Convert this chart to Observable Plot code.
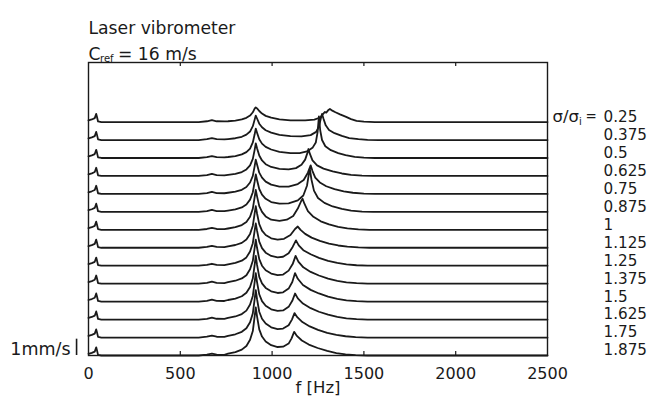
<!DOCTYPE html>
<html><head><meta charset="utf-8">
<script src="https://cdn.jsdelivr.net/npm/d3@7"></script>
<script src="https://cdn.jsdelivr.net/npm/@observablehq/plot@0.6"></script>
<style>body{margin:0;background:#fff}</style>
</head><body><div id="chart"></div>
<script>
// sigma/sigma_i of each spectrum, top to bottom
const sigmaRatios = ["0.25","0.375","0.5","0.625","0.75","0.875","1","1.125","1.25","1.375","1.5","1.625","1.75","1.875"];
const xTicks = [0, 500, 1000, 1500, 2000, 2500];
const innerTicks = [500, 1000, 1500, 2000];
const titleText = "Laser vibrometer";
const cText = "C", refText = "ref", speedText = "= 16 m/s";
const xLabel = "f [Hz]";
const scaleBarLabel = "1mm/s";
const scaleBarValue = 1; // mm/s
const offsetStep = 1.1;  // vertical spacing between spectra, mm/s

// [frequency Hz, velocity amplitude mm/s] — part common to all spectra below 760 Hz
const lowBand = [[0,0.10],[18,0.16],[34,0.24],[42,0.5],[46,0.33],[52,0.04],[70,0],[600,0],[645,0.05],[672,0.12],[698,0.05],[740,0.04]];

const s025 = [[760,0.05],[800,0.09],[835,0.16],[860,0.26],[880,0.4],[895,0.6],[905,0.82],[911,0.9],[918,0.84],[930,0.68],[945,0.52],[965,0.38],[995,0.27],[1040,0.17],[1100,0.11],[1180,0.1],[1230,0.15],[1262,0.28],[1278,0.5],[1288,0.62],[1295,0.58],[1305,0.72],[1315,0.8],[1328,0.7],[1345,0.6],[1370,0.47],[1400,0.33],[1430,0.18],[1460,0.08],[1500,0.03],[1560,0],[2500,0]];
const s0375 = [[760,0.06],[800,0.11],[835,0.2],[860,0.33],[880,0.52],[895,0.85],[905,1.25],[911,1.5],[918,1.32],[930,1.0],[945,0.78],[965,0.6],[995,0.45],[1040,0.32],[1100,0.24],[1160,0.22],[1210,0.3],[1240,0.5],[1256,0.85],[1266,1.35],[1272,1.6],[1280,1.3],[1292,0.9],[1310,0.62],[1340,0.42],[1380,0.25],[1420,0.12],[1470,0.05],[1520,0.01],[1580,0],[2500,0]];
const s05 = [[760,0.06],[800,0.12],[835,0.22],[860,0.36],[880,0.58],[895,0.95],[905,1.45],[911,1.8],[918,1.55],[930,1.15],[945,0.88],[965,0.68],[995,0.52],[1040,0.38],[1100,0.3],[1150,0.3],[1190,0.4],[1220,0.62],[1238,0.95],[1248,1.6],[1255,2.55],[1262,1.7],[1272,1.1],[1290,0.72],[1320,0.48],[1360,0.3],[1400,0.17],[1450,0.07],[1500,0.02],[1560,0],[2500,0]];
const s0625 = [[760,0.07],[800,0.13],[835,0.24],[860,0.4],[880,0.65],[895,1.05],[905,1.6],[911,2.0],[918,1.7],[930,1.25],[945,0.95],[965,0.72],[995,0.55],[1040,0.43],[1090,0.4],[1130,0.48],[1160,0.68],[1180,1.0],[1192,1.4],[1198,1.65],[1206,1.35],[1220,0.95],[1245,0.65],[1280,0.45],[1330,0.28],[1380,0.15],[1430,0.07],[1490,0.02],[1550,0],[2500,0]];
const s075 = [[760,0.07],[800,0.14],[835,0.25],[860,0.42],[880,0.7],[895,1.1],[905,1.7],[911,2.1],[918,1.8],[930,1.3],[945,1.0],[965,0.75],[995,0.57],[1040,0.45],[1090,0.45],[1140,0.6],[1172,0.85],[1195,1.3],[1210,1.75],[1220,1.4],[1235,1.0],[1260,0.7],[1295,0.47],[1340,0.29],[1390,0.15],[1440,0.07],[1500,0.02],[1560,0],[2500,0]];
const s0875 = [[760,0.08],[800,0.15],[835,0.27],[860,0.45],[880,0.75],[895,1.2],[905,1.85],[911,2.3],[918,1.95],[930,1.4],[945,1.05],[965,0.8],[995,0.6],[1040,0.5],[1090,0.52],[1140,0.7],[1170,1.0],[1190,1.6],[1200,2.3],[1206,2.6],[1214,2.0],[1228,1.3],[1250,0.85],[1285,0.55],[1330,0.33],[1380,0.18],[1430,0.08],[1490,0.02],[1550,0],[2500,0]];
const s1 = [[760,0.08],[800,0.16],[835,0.29],[860,0.48],[880,0.8],[895,1.3],[905,2.0],[911,2.45],[918,2.05],[930,1.45],[945,1.1],[965,0.82],[995,0.62],[1040,0.55],[1080,0.62],[1115,0.85],[1140,1.3],[1158,1.75],[1166,1.9],[1176,1.6],[1195,1.15],[1225,0.8],[1265,0.52],[1310,0.33],[1360,0.18],[1410,0.09],[1470,0.03],[1530,0],[2500,0]];
const s1125 = [[760,0.09],[800,0.17],[835,0.3],[860,0.5],[880,0.85],[895,1.35],[905,2.1],[911,2.55],[918,2.1],[930,1.45],[945,1.05],[965,0.78],[995,0.58],[1030,0.5],[1065,0.55],[1100,0.78],[1125,1.15],[1140,1.3],[1155,1.1],[1180,0.85],[1215,0.62],[1260,0.42],[1310,0.26],[1360,0.14],[1410,0.07],[1470,0.02],[1530,0],[2500,0]];
const s125 = [[760,0.09],[800,0.18],[835,0.31],[860,0.51],[880,0.87],[895,1.38],[905,2.15],[911,2.6],[918,2.15],[930,1.48],[945,1.08],[965,0.8],[995,0.6],[1030,0.51],[1060,0.55],[1090,0.76],[1112,1.15],[1130,1.55],[1145,1.25],[1170,0.95],[1210,0.7],[1255,0.48],[1305,0.3],[1355,0.17],[1405,0.08],[1460,0.03],[1520,0],[2500,0]];
const s1375 = [[760,0.09],[800,0.18],[835,0.32],[860,0.52],[880,0.88],[895,1.4],[905,2.2],[911,2.7],[918,2.2],[930,1.5],[945,1.1],[965,0.82],[995,0.62],[1030,0.52],[1060,0.56],[1090,0.8],[1112,1.2],[1128,1.7],[1143,1.35],[1170,1.0],[1210,0.72],[1255,0.5],[1305,0.31],[1355,0.17],[1405,0.08],[1460,0.03],[1520,0],[2500,0]];
const s15 = [[760,0.1],[800,0.19],[835,0.33],[860,0.54],[880,0.9],[895,1.43],[905,2.25],[911,2.8],[918,2.25],[930,1.52],[945,1.12],[965,0.84],[995,0.63],[1030,0.53],[1060,0.57],[1090,0.8],[1110,1.2],[1125,1.75],[1140,1.4],[1168,1.02],[1210,0.72],[1255,0.5],[1305,0.31],[1355,0.17],[1405,0.08],[1460,0.03],[1520,0],[2500,0]];
const s1625 = [[760,0.1],[800,0.19],[835,0.34],[860,0.55],[880,0.92],[895,1.45],[905,2.3],[911,2.85],[918,2.3],[930,1.55],[945,1.13],[965,0.85],[995,0.63],[1030,0.53],[1060,0.56],[1090,0.78],[1110,1.15],[1125,1.6],[1140,1.3],[1168,0.98],[1210,0.7],[1255,0.48],[1305,0.3],[1355,0.16],[1405,0.08],[1460,0.03],[1520,0],[2500,0]];
const s175 = [[760,0.1],[800,0.2],[835,0.35],[860,0.57],[880,0.94],[895,1.48],[905,2.35],[911,2.9],[918,2.35],[930,1.58],[945,1.15],[965,0.86],[995,0.63],[1030,0.52],[1060,0.55],[1090,0.75],[1108,1.1],[1122,1.5],[1137,1.25],[1165,0.95],[1205,0.68],[1250,0.47],[1300,0.29],[1350,0.16],[1400,0.08],[1455,0.03],[1520,0],[2500,0]];
const s1875 = [[760,0.11],[800,0.21],[835,0.36],[860,0.58],[880,0.96],[895,1.5],[905,2.4],[911,2.95],[918,2.4],[930,1.6],[945,1.16],[965,0.86],[995,0.63],[1030,0.52],[1060,0.54],[1090,0.73],[1106,1.05],[1120,1.45],[1135,1.2],[1162,0.92],[1200,0.67],[1248,0.46],[1300,0.28],[1350,0.15],[1400,0.07],[1455,0.02],[1520,0],[2500,0]];

const spectra = [s025, s0375, s05, s0625, s075, s0875, s1, s1125, s125, s1375, s15, s1625, s175, s1875];
const n = spectra.length;
const rows = spectra.flatMap((s, i) =>
  [...lowBand, ...s].map(([f, a]) => ({f, y: (n - 1 - i) * offsetStep + a, ratio: sigmaRatios[i]})));
const labelRows = sigmaRatios.map((r, i) => ({r, y: (n - 1 - i) * offsetStep}));
const yTop = (n - 1) * offsetStep;

const ink = "#1a1a1a";
const font = "'DejaVu Sans', sans-serif";
const chart = Plot.plot({
  width: 649, height: 404,
  marginLeft: 88, marginRight: 102, marginTop: 62, marginBottom: 49,
  style: {fontFamily: font, fontSize: "16px", color: ink, background: "#fff", overflow: "visible"},
  x: {domain: [0, 2500], ticks: xTicks, tickSize: 0, tickPadding: 12, label: null, tickFormat: d => String(d)},
  y: {domain: [0, 17.95], axis: null},
  marks: [
    Plot.frame({stroke: ink, strokeWidth: 1.4}),
    Plot.ruleX(innerTicks, {y1: 0, y2: 0.25, stroke: ink, strokeWidth: 1.2}),
    Plot.ruleX(innerTicks, {y1: 17.7, y2: 17.95, stroke: ink, strokeWidth: 1.2}),
    Plot.line(rows, {x: "f", y: "y", z: "ratio", stroke: ink, strokeWidth: 1.8, strokeLinejoin: "round"}),
    Plot.text(labelRows, {x: 2500, y: "y", text: "r", dx: 56, dy: -5, textAnchor: "start", fontSize: 15.2, fill: ink}),
    Plot.text(["σ/σ"], {x: 2500, y: yTop, dx: 5, dy: -5, textAnchor: "start", fontSize: 16.5, fill: ink}),
    Plot.text(["i"], {x: 2500, y: yTop, dx: 31.5, dy: 0, textAnchor: "start", fontSize: 10, fill: ink}),
    Plot.text(["="], {x: 2500, y: yTop, dx: 38, dy: -5, textAnchor: "start", fontSize: 13.5, fill: ink}),
    Plot.ruleX([-65], {y1: 0, y2: scaleBarValue, stroke: ink, strokeWidth: 1.6}),
    Plot.text([scaleBarLabel], {x: -98, y: 0, dy: -6, textAnchor: "end", fontSize: 17.5, fill: ink}),
    Plot.text([xLabel], {frameAnchor: "bottom", dy: 37, fontSize: 16.5, fill: ink}),
    Plot.text([titleText], {frameAnchor: "top-left", dy: -41, textAnchor: "start", fontSize: 17.2, fill: ink}),
    Plot.text([cText], {frameAnchor: "top-left", dy: -15, textAnchor: "start", fontSize: 17.2, fill: ink}),
    Plot.text([refText], {frameAnchor: "top-left", dx: 11.5, dy: -8, textAnchor: "start", fontSize: 10, fill: ink}),
    Plot.text([speedText], {frameAnchor: "top-left", dx: 29.5, dy: -15, textAnchor: "start", fontSize: 17.2, fill: ink})
  ]
});
document.getElementById("chart").append(chart);
</script>
</body></html>
